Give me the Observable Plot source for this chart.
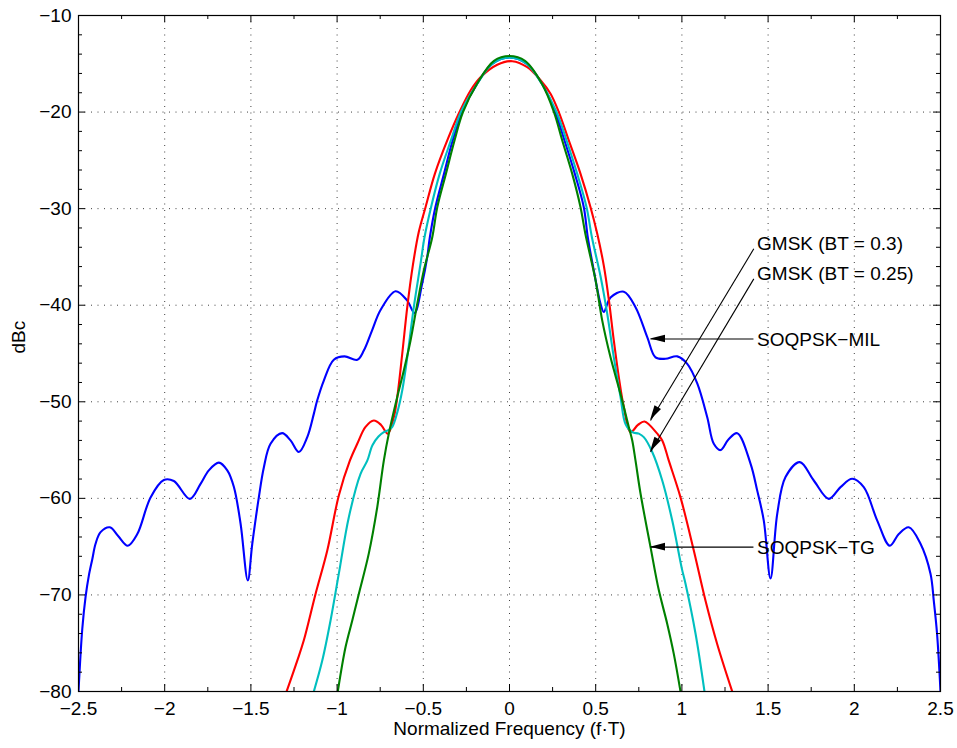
<!DOCTYPE html>
<html>
<head>
<meta charset="utf-8">
<script src="https://cdn.jsdelivr.net/npm/d3@7"></script>
<script src="https://cdn.jsdelivr.net/npm/@observablehq/plot@0.6"></script>
<style>
  html, body { margin: 0; padding: 0; background: #fff; }
</style>
</head>
<body>
<div id="chart"></div>
<script>
// ---------- data ----------
const xTicks = [-2.5, -2, -1.5, -1, -0.5, 0, 0.5, 1, 1.5, 2, 2.5];
const xTickLabels = ["−2.5", "−2", "−1.5", "−1", "−0.5", "0", "0.5", "1", "1.5", "2", "2.5"];
const xMinor = [-2.25, -1.75, -1.25, -0.75, -0.25, 0.25, 0.75, 1.25, 1.75, 2.25];
const yTicks = [-80, -70, -60, -50, -40, -30, -20, -10];
const yTickLabels = ["−80", "−70", "−60", "−50", "−40", "−30", "−20", "−10"];
const yMinor = [-78, -76, -74, -72, -68, -66, -64, -62, -58, -56, -54, -52, -48, -46, -44, -42,
                -38, -36, -34, -32, -28, -26, -24, -22, -18, -16, -14, -12];

// SOQPSK-MIL (blue)
const milF = [-2.5, -2.478, -2.459, -2.44, -2.42, -2.401, -2.372, -2.318, -2.27, -2.214, -2.159, -2.082, -2.005, -1.947,
  -1.854, -1.792, -1.744, -1.686, -1.637, -1.599, -1.56, -1.518, -1.492, -1.454, -1.425, -1.386, -1.319,
  -1.27, -1.222, -1.173, -1.135, -1.116, -1.077, -1.019, -0.957, -0.883, -0.845, -0.797, -0.748, -0.661,
  -0.594, -0.551, -0.507, -0.477, -0.462, -0.43, -0.38, -0.33, -0.275, -0.19, -0.1, 0,
  0.1, 0.19, 0.265, 0.319, 0.379, 0.431, 0.454, 0.489, 0.528, 0.547, 0.586, 0.663, 0.731, 0.799,
  0.847, 0.905, 0.973, 1.031, 1.089, 1.147, 1.185, 1.224, 1.27, 1.321, 1.398, 1.437, 1.475, 1.514, 1.553,
  1.601, 1.684, 1.765, 1.852, 1.92, 1.988, 2.055, 2.133, 2.206, 2.258, 2.316, 2.384, 2.442, 2.461, 2.48, 2.5];
const milDb = [-80, -73.5, -70.2, -68.0, -66.3, -64.7, -63.5, -63.0, -63.9, -64.9, -63.7, -59.9, -58.1, -58.2,
  -60.05, -58.5, -57.1, -56.3, -57.1, -58.8, -62.6, -68.5, -64.7, -59.9, -56.8, -54.35, -53.25,
  -54.0, -55.2, -53.65, -51.25, -49.9, -47.8, -45.65, -45.3, -45.65, -44.7, -42.6, -40.5, -38.55,
  -39.5, -40.8, -37.8, -35.0, -32.96, -29.85, -26.4, -22.94, -20.0, -17.1, -15.0, -14.35,
  -15.0, -17.1, -20.0, -22.94, -26.4, -29.85, -32.96, -36.4, -39.85, -40.7, -39.2, -38.6, -40.2, -43.3,
  -45.4, -45.55, -45.3, -46.07, -48.1, -51.6, -54.35, -55.0, -53.9, -53.25, -56.4, -59.2, -62.3, -68.3, -61.6,
  -57.8, -56.25, -58.15, -60.05, -58.84, -57.97, -58.84, -62.3, -64.9, -63.7, -63.0, -64.7, -67.8, -70.6, -74.0, -80];

// GMSK BT = 0.3 (red)
const gmsk3F = [-1.293, -1.231, -1.193, -1.125, -1.057, -0.99, -0.926, -0.883, -0.835, -0.787, -0.745,
  -0.706, -0.671, -0.651, -0.622, -0.593, -0.56, -0.526, -0.487, -0.433, -0.361, -0.29, -0.226, -0.168,
  -0.071, 0.016, 0.103, 0.18, 0.238, 0.286, 0.344, 0.412, 0.47, 0.509, 0.547, 0.576, 0.605, 0.634, 0.663,
  0.702, 0.745, 0.783, 0.857, 0.886, 0.924, 0.992, 1.069, 1.137, 1.205, 1.292];
const gmsk3Db = [-80, -76.8, -74.7, -69.9, -65.4, -59.7, -56.1, -54.35, -52.6, -51.94, -52.4,
  -53.3, -51.6, -49.5, -45.0, -40.2, -35.8, -32.4, -29.85, -26.4, -22.94, -20.0, -17.77, -16.4,
  -15.1, -14.73, -15.35, -16.7, -18.1, -20.0, -22.94, -26.4, -29.85, -32.6, -35.9, -39.4, -43.65, -47.45, -50.55,
  -53.15, -52.4, -52.04, -53.3, -54.0, -56.1, -59.9, -65.4, -70.6, -75.1, -80];

// GMSK BT = 0.25 (cyan)
const gmsk25F = [-1.135, -1.086, -1.038, -0.99, -0.932, -0.864, -0.825, -0.795, -0.76, -0.729, -0.70,
  -0.68, -0.651, -0.622, -0.593, -0.555, -0.516, -0.493, -0.455, -0.405, -0.34, -0.282, -0.19,
  -0.1, 0, 0.1, 0.19, 0.273, 0.331, 0.393, 0.447, 0.478, 0.528, 0.567, 0.605, 0.644, 0.673, 0.712,
  0.75, 0.779, 0.828, 0.886, 0.944, 1.0, 1.021, 1.079, 1.131];
const gmsk25Db = [-80, -76.8, -72.65, -67.8, -61.95, -57.46, -56.1, -54.5, -53.6, -53.15, -52.9,
  -52.6, -51.1, -48.8, -45.4, -40.2, -35.7, -32.96, -29.85, -26.4, -22.94, -20.0, -17.15,
  -15.0, -14.35, -15.0, -17.15, -20.0, -22.94, -26.4, -29.85, -32.96, -37.0, -40.9, -45.4, -49.5, -52.3, -53.15,
  -53.3, -53.66, -55.2, -58.15, -62.3, -67.3, -68.85, -74.0, -80];

// SOQPSK-TG (green)
const tgF = [-0.996, -0.951, -0.912, -0.874, -0.816, -0.767, -0.729, -0.70, -0.651, -0.613, -0.574,
  -0.535, -0.497, -0.448, -0.419, -0.369, -0.319, -0.27, -0.188, -0.09, 0, 0.09, 0.188,
  0.258, 0.306, 0.364, 0.412, 0.44, 0.499, 0.538, 0.586, 0.644, 0.692, 0.712, 0.731, 0.76, 0.818, 0.866,
  0.915, 0.953, 0.992];
const tgDb = [-80, -75.4, -72.65, -69.9, -65.7, -60.9, -56.1, -53.3, -49.5, -46.76, -43.65,
  -39.85, -36.4, -32.96, -29.85, -26.4, -22.94, -20.0, -17.07, -14.7, -14.2, -14.7, -17.07,
  -20.0, -22.94, -26.4, -29.85, -32.6, -37.4, -41.6, -45.4, -49.2, -52.6, -54.0, -56.1, -59.5, -65.05, -69.5,
  -73.0, -76.1, -80];

// annotations
const annLabels = ["GMSK (BT = 0.3)", "GMSK (BT = 0.25)", "SOQPSK−MIL", "SOQPSK−TG"];
const annTextF = [1.436, 1.436, 1.436, 1.436];
const annTextDb = [-33.7, -36.77, -43.6, -65.15];
const arrowFromF = [1.417, 1.417, 1.415, 1.415];
const arrowFromDb = [-34.16, -37.27, -43.5, -65.05];
const arrowToF = [0.818, 0.818, 0.818, 0.818];
const arrowToDb = [-51.94, -55.2, -43.5, -65.05];

// ---------- chart ----------
const W = 957, H = 748, mL = 78, mR = 17, mT = 15, mB = 57;
const fw = W - mL - mR, fh = H - mT - mB;
const majorLen = 7, minorLen = 4;

const arrows = annLabels.map((_, i) => ({x1: arrowFromF[i], y1: arrowFromDb[i], x2: arrowToF[i], y2: arrowToDb[i]}));

function arrowHeads(index, scales) {
  const g = d3.create("svg:g").attr("fill", "black");
  for (const a of arrows) {
    const x1 = scales.x(a.x1), y1 = scales.y(a.y1), x2 = scales.x(a.x2), y2 = scales.y(a.y2);
    const ang = Math.atan2(y2 - y1, x2 - x1);
    const L = 15, w = 3.8;
    const bx = x2 - L * Math.cos(ang), by = y2 - L * Math.sin(ang);
    const px = -Math.sin(ang) * w, py = Math.cos(ang) * w;
    g.append("path").attr("d", `M${x2},${y2}L${bx + px},${by + py}L${bx - px},${by - py}Z`);
  }
  return g.node();
}

const series = [
  {f: milF, db: milDb, color: "#0000ff"},
  {f: gmsk3F, db: gmsk3Db, color: "#ff0000"},
  {f: gmsk25F, db: gmsk25Db, color: "#00bfbf"},
  {f: tgF, db: tgDb, color: "#008000"}
];

const gridStyle = {stroke: "#000", strokeOpacity: 0.75, strokeWidth: 1, strokeDasharray: "1,5.5"};

const chart = Plot.plot({
  width: W, height: H,
  marginLeft: mL, marginRight: mR, marginTop: mT, marginBottom: mB,
  style: {fontFamily: "'Liberation Sans', Arial, Helvetica, sans-serif", fontSize: "19px", background: "#fff", color: "#000"},
  x: {domain: [-2.5, 2.5], axis: null},
  y: {domain: [-80, -10], axis: null},
  marks: [
    Plot.ruleX(xTicks.slice(1, -1), {x: d => d, ...gridStyle}),
    Plot.ruleY(yTicks.slice(1, -1), {y: d => d, ...gridStyle}),
    ...series.map(s => Plot.line(s.db, {x: s.f, y: s.db, stroke: s.color, strokeWidth: 2.1, curve: "catmull-rom", clip: true})),
    Plot.frame({stroke: "#000", strokeWidth: 1.2}),
    // ticks pointing inward on all four sides
    Plot.ruleX(xTicks, {x: d => d, insetTop: fh - majorLen, stroke: "#000"}),
    Plot.ruleX(xTicks, {x: d => d, insetBottom: fh - majorLen, stroke: "#000"}),
    Plot.ruleX(xMinor, {x: d => d, insetTop: fh - minorLen, stroke: "#000"}),
    Plot.ruleX(xMinor, {x: d => d, insetBottom: fh - minorLen, stroke: "#000"}),
    Plot.ruleY(yTicks, {y: d => d, insetRight: fw - majorLen, stroke: "#000"}),
    Plot.ruleY(yTicks, {y: d => d, insetLeft: fw - majorLen, stroke: "#000"}),
    Plot.ruleY(yMinor, {y: d => d, insetRight: fw - minorLen, stroke: "#000"}),
    Plot.ruleY(yMinor, {y: d => d, insetLeft: fw - minorLen, stroke: "#000"}),
    Plot.axisX({ticks: xTicks, tickSize: 0, tickPadding: 10, label: null, fontSize: 19,
      tickFormat: d => xTickLabels[xTicks.indexOf(d)]}),
    Plot.axisY({ticks: yTicks, tickSize: 0, tickPadding: 7, label: null, fontSize: 19,
      tickFormat: d => yTickLabels[yTicks.indexOf(d)]}),
    Plot.text(["Normalized Frequency (f·T)"], {frameAnchor: "bottom", dy: 43, text: d => d, fill: "#000", fontSize: 19}),
    Plot.text(["dBc"], {frameAnchor: "left", dx: -60, rotate: -90, text: d => d, fill: "#000", fontSize: 19}),
    // annotations
    Plot.link(arrows, {x1: "x1", y1: "y1", x2: "x2", y2: "y2", stroke: "#000", strokeWidth: 1.1}),
    arrowHeads,
    Plot.text(annLabels, {x: annTextF, y: annTextDb, text: d => d, textAnchor: "start", lineAnchor: "middle", fill: "#000", fontSize: 19})
  ]
});

document.getElementById("chart").appendChild(chart);
</script>
</body>
</html>
